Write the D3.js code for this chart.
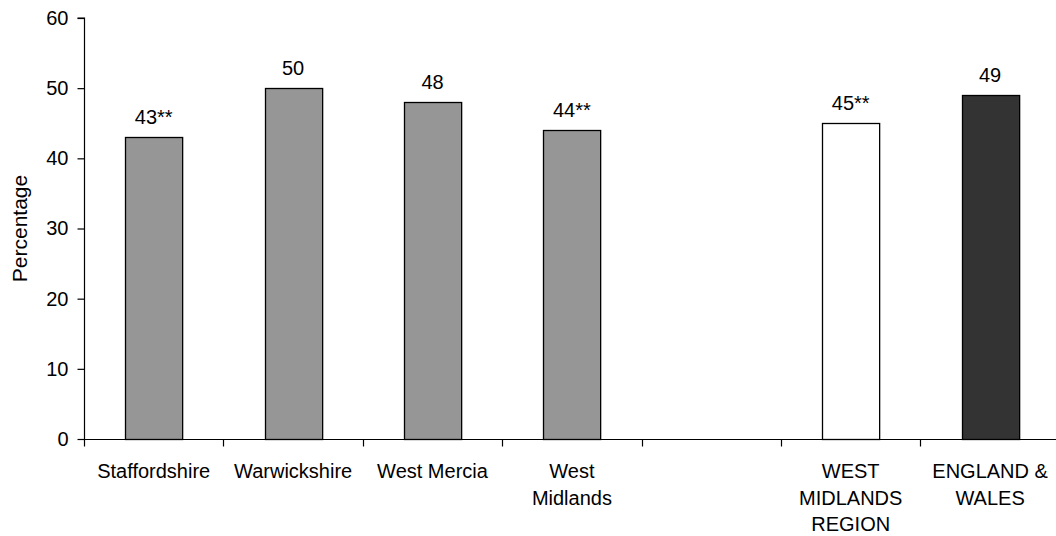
<!DOCTYPE html>
<html>
<head>
<meta charset="utf-8">
<script src="https://cdn.jsdelivr.net/npm/d3@7"></script>
<style>
  html, body { margin: 0; padding: 0; background: #fff; }
  svg { display: block; }
  text { font-family: "Liberation Sans", Arial, sans-serif; fill: #000; }
</style>
</head>
<body>
<script>
// ---- data ----
const categories = ["Staffordshire", "Warwickshire", "West Mercia", "West\nMidlands", "", "WEST\nMIDLANDS\nREGION", "ENGLAND &\nWALES"];
const values = [43, 50, 48, 44, null, 45, 49];
const valueLabels = ["43**", "50", "48", "44**", "", "45**", "49"];
const groups = ["force", "force", "force", "force", "none", "region", "national"];
const yTicks = [0, 10, 20, 30, 40, 50, 60];
const yTitle = "Percentage";

// ---- layout ----
const W = 1056, H = 536;
const x0 = 84, step = 139.4;
const yBottom = 439, yTop = 18;
const fontSize = 20;

const svg = d3.select("body").append("svg").attr("width", W).attr("height", H);

const x = d3.scaleBand()
  .domain(d3.range(categories.length))
  .range([x0, x0 + step * categories.length])
  .paddingInner(0.59)
  .paddingOuter(0.295);

const y = d3.scaleLinear().domain([0, 60]).range([yBottom, yTop]);

const color = d3.scaleOrdinal()
  .domain(["force", "region", "national", "none"])
  .range(["#969696", "#ffffff", "#333333", "none"]);

// bars
const data = categories.map((c, i) => ({ i, c, v: values[i], label: valueLabels[i], g: groups[i] }))
  .filter(d => d.v != null);

svg.append("g").selectAll("rect").data(data).join("rect")
  .attr("x", d => Math.round(x(d.i)) + 0.5)
  .attr("y", d => Math.round(y(d.v)) + 0.5)
  .attr("width", x.bandwidth())
  .attr("height", d => yBottom - Math.round(y(d.v)))
  .attr("fill", d => color(d.g))
  .attr("stroke", "#000")
  .attr("stroke-width", 1.3);

// value labels
svg.append("g").selectAll("text").data(data).join("text")
  .attr("x", d => x(d.i) + x.bandwidth() / 2)
  .attr("y", d => y(d.v) - 13)
  .attr("text-anchor", "middle")
  .attr("font-size", fontSize)
  .text(d => d.label);

// y axis
const yAxis = svg.append("g")
  .attr("transform", `translate(${x0 + 0.5},0)`)
  .call(d3.axisLeft(y).tickValues(yTicks).tickSize(7).tickPadding(9).tickFormat(d3.format("d")));
yAxis.selectAll("text").attr("font-size", fontSize).attr("font-family", null).attr("fill", "#000");
yAxis.selectAll("line, path").attr("stroke", "#000").attr("stroke-width", 1.2);
yAxis.select(".domain").attr("d", `M-7,${y(60)}H0V${yBottom}`);

// x axis line with boundary ticks
const xAxis = svg.append("g").attr("transform", `translate(0,${yBottom + 0.5})`);
xAxis.append("line")
  .attr("x1", x0).attr("x2", x0 + step * categories.length)
  .attr("stroke", "#000").attr("stroke-width", 1.2);
const boundaries = d3.range(categories.length + 1).map(k => x(0) - x.step() * x.paddingOuter() + k * x.step());
xAxis.selectAll("line.tick").data(boundaries).join("line")
  .attr("class", "tick")
  .attr("x1", d => Math.round(d) + 0.5).attr("x2", d => Math.round(d) + 0.5)
  .attr("y1", 0).attr("y2", 7)
  .attr("stroke", "#000").attr("stroke-width", 1.2);

// category labels
const catG = svg.append("g");
categories.forEach((c, i) => {
  const t = catG.append("text")
    .attr("x", x(i) + x.bandwidth() / 2)
    .attr("y", 478)
    .attr("text-anchor", "middle")
    .attr("font-size", fontSize);
  c.split("\n").forEach((line, j) => {
    t.append("tspan")
      .attr("x", x(i) + x.bandwidth() / 2)
      .attr("dy", j === 0 ? 0 : 26.5)
      .text(line);
  });
});

// y title
svg.append("text")
  .attr("transform", `translate(27,${(yTop + yBottom) / 2}) rotate(-90)`)
  .attr("text-anchor", "middle")
  .attr("font-size", 21)
  .text(yTitle);
</script>
</body>
</html>
